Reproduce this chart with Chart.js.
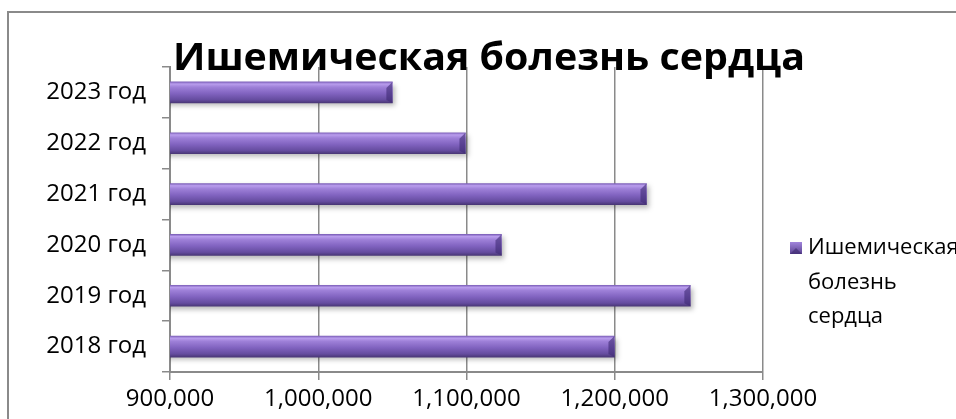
<!DOCTYPE html>
<html><head><meta charset="utf-8">
<script src="https://cdn.jsdelivr.net/npm/chart.js@4"></script>
<style>
html,body{margin:0;padding:0;background:#fff;overflow:hidden}
#wrap{position:relative;width:956px;height:419px;overflow:hidden}
#frame{position:absolute;left:7px;top:11px;width:1000px;height:500px;border:2px solid #8a8a8a;box-sizing:border-box}
canvas{position:absolute;left:0;top:0}
</style></head><body>
<div id="wrap"><div id="frame"></div><canvas id="c" width="956" height="419"></canvas></div>
<script>
const categories = ['2023 год','2022 год','2021 год','2020 год','2019 год','2018 год'];
const values = [1050000, 1099300, 1221400, 1123600, 1251000, 1199800];
const seriesName = 'Ишемическая болезнь сердца';
const legendLines = ['Ишемическая','болезнь','сердца'];
const titleText = 'Ишемическая болезнь сердца';
const xMin = 900000, xMax = 1300000, xStep = 100000;

const FONT = '"Open Sans", "DejaVu Sans", sans-serif';
const GRAY = '#8a8a8a';

const gradientPlugin = {
  id: 'barLook',
  beforeDatasetsDraw(chart) {
    const ctx = chart.ctx;
    chart.getDatasetMeta(0).data.forEach(el => {
      const top = el.y - el.height / 2, bot = el.y + el.height / 2;
      const g = ctx.createLinearGradient(0, top, 0, bot);
      g.addColorStop(0, '#7f62bb');
      g.addColorStop(0.1, '#b99ded');
      g.addColorStop(0.25, '#9e80d8');
      g.addColorStop(0.55, '#8163c0');
      g.addColorStop(0.85, '#654c9f');
      g.addColorStop(1, '#4a3777');
      el.options = Object.assign({}, el.options, { backgroundColor: g });
    });
    ctx.save();
    ctx.shadowColor = 'rgba(0,0,0,0.28)';
    ctx.shadowBlur = 5;
    ctx.shadowOffsetX = 2;
    ctx.shadowOffsetY = 3;
  },
  afterDatasetsDraw(chart) {
    const ctx = chart.ctx;
    ctx.restore();
    chart.getDatasetMeta(0).data.forEach(el => {
      const top = el.y - el.height / 2, bot = el.y + el.height / 2;
      const r = el.x, b = 6;
      ctx.save();
      ctx.fillStyle = 'rgba(62,42,115,0.6)';
      ctx.beginPath();
      ctx.moveTo(r - b, top + b);
      ctx.lineTo(r, top);
      ctx.lineTo(r, bot);
      ctx.lineTo(r - b, bot - 3);
      ctx.closePath();
      ctx.fill();
      ctx.restore();
    });
  }
};

const overlayPlugin = {
  id: 'overlay',
  afterDraw(chart) {
    const ctx = chart.ctx;
    ctx.save();
    ctx.font = 'bold 37px ' + FONT;
    ctx.fillStyle = '#000';
    ctx.textAlign = 'center';
    ctx.textBaseline = 'alphabetic';
    const w = ctx.measureText(titleText).width;
    ctx.translate(489, 70);
    ctx.scale(632 / w, 1);
    ctx.fillText(titleText, 0, 0);
    ctx.restore();

    ctx.save();
    const mx = 790, my = 242, ms = 12;
    const g = ctx.createLinearGradient(0, my, 0, my + ms);
    g.addColorStop(0, '#a184dc');
    g.addColorStop(1, '#5a4290');
    ctx.fillStyle = g;
    ctx.fillRect(mx, my, ms, ms);
    ctx.fillStyle = 'rgba(60,40,110,0.6)';
    ctx.beginPath();
    ctx.moveTo(mx, my + ms); ctx.lineTo(mx + ms / 2, my + ms / 2); ctx.lineTo(mx + ms, my + ms); ctx.closePath();
    ctx.fill();
    ctx.font = '22px ' + FONT;
    ctx.fillStyle = '#000';
    ctx.textAlign = 'left';
    ctx.textBaseline = 'middle';
    legendLines.forEach((t, i) => ctx.fillText(t, 808, 248 + i * 34.5));
    ctx.restore();
  }
};

new Chart(document.getElementById('c'), {
  type: 'bar',
  data: {
    labels: categories,
    datasets: [{ label: seriesName, data: values, backgroundColor: '#8a6cc6', borderWidth: 0, barThickness: 21 }]
  },
  options: {
    indexAxis: 'y',
    responsive: false,
    animation: false,
    devicePixelRatio: 1,
    layout: { padding: { top: 67, right: 193, left: 0, bottom: 0 } },
    plugins: { legend: { display: false }, title: { display: false }, tooltip: { enabled: false } },
    scales: {
      x: {
        type: 'linear', min: xMin, max: xMax,
        ticks: { stepSize: xStep, color: '#000', font: { family: FONT, size: 24 }, padding: 5,
          callback: v => Number(v).toLocaleString('en-US') },
        grid: { color: GRAY, lineWidth: 1.5, tickLength: 8, drawOnChartArea: true },
        border: { display: true, color: GRAY, width: 2 },
        afterFit: s => { s.height = 47; }
      },
      y: {
        type: 'category',
        ticks: { color: '#000', font: { family: FONT, size: 24 }, padding: 16 },
        grid: { offset: true, color: GRAY, lineWidth: 1.5, tickLength: 8, drawOnChartArea: false },
        border: { display: true, color: GRAY, width: 2 },
        afterFit: s => { s.width = 170; }
      }
    }
  },
  plugins: [gradientPlugin, overlayPlugin]
});
</script>
</body></html>
